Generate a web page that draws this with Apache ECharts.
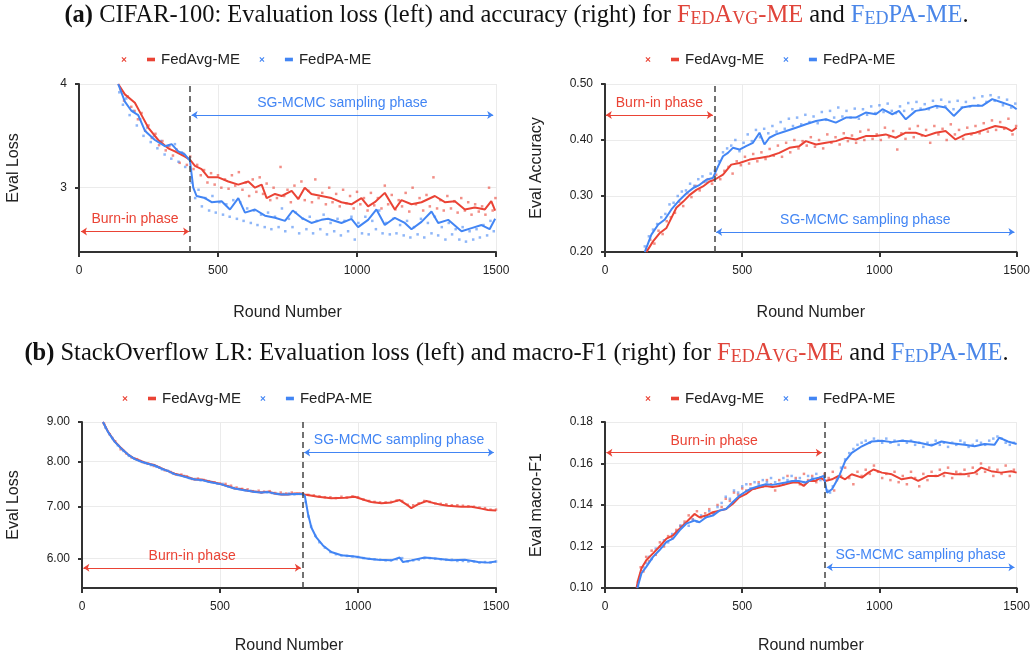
<!DOCTYPE html>
<html>
<head>
<meta charset="utf-8">
<script src="https://cdn.jsdelivr.net/npm/echarts@6/dist/echarts.min.js"></script>
<style>
    html, body { margin: 0; padding: 0; background: #fff; }
    #main { width: 1033px; height: 655px; }
</style>
</head>
<body>
<div id="main"></div>
<script>
// ---- data: [round, value] ----
const cifarLossAvg = [[141,4.0],[165,3.9],[201,3.82],[225,3.7],[249,3.58],[285,3.46],[321,3.38],[345,3.35],[381,3.3],[399,3.27],[417,3.21],[441,3.18],[465,3.1],[501,3.1],[537,3.06],[573,3.03],[609,3.06],[633,3.0],[657,3.03],[675,2.9],[705,2.94],[729,2.92],[765,2.97],[789,2.89],[812,3.0],[836,2.94],[872,2.92],[908,2.9],[944,2.86],[980,2.84],[1016,2.9],[1040,2.82],[1064,2.86],[1100,2.95],[1136,2.79],[1160,2.88],[1196,2.84],[1232,2.86],[1280,2.92],[1316,2.86],[1352,2.87],[1388,2.79],[1424,2.81],[1460,2.79],[1483,2.87],[1497,2.78]];
const cifarLossPa = [[141,4.0],[165,3.83],[189,3.74],[213,3.7],[237,3.55],[273,3.46],[309,3.4],[333,3.42],[357,3.35],[381,3.32],[399,3.26],[411,3.0],[423,2.92],[453,2.9],[477,2.86],[513,2.87],[543,2.79],[573,2.9],[597,2.76],[633,2.79],[669,2.73],[705,2.71],[741,2.68],[769,2.78],[801,2.71],[836,2.66],[872,2.69],[896,2.7],[944,2.66],[980,2.7],[1004,2.62],[1040,2.69],[1070,2.79],[1100,2.64],[1136,2.71],[1172,2.66],[1196,2.6],[1232,2.67],[1268,2.77],[1292,2.66],[1328,2.69],[1376,2.58],[1412,2.61],[1448,2.64],[1477,2.6],[1497,2.7]];
const cifarLossAvgPts = [[150,3.95],[162,3.84],[175,3.88],[188,3.78],[200,3.74],[212,3.66],[225,3.72],[238,3.55],[250,3.6],[262,3.48],[275,3.52],[288,3.41],[300,3.45],[312,3.36],[325,3.4],[338,3.31],[350,3.37],[362,3.24],[375,3.33],[388,3.22],[400,3.3],[412,3.18],[425,3.22],[438,3.12],[450,3.17],[462,3.05],[475,3.14],[488,3.03],[500,3.12],[512,3.0],[525,3.08],[538,2.99],[550,3.12],[562,3.02],[575,3.15],[588,2.98],[600,3.05],[612,2.92],[625,3.08],[638,2.96],[650,3.1],[662,2.94],[675,3.04],[688,2.88],[700,3.0],[712,2.9],[725,3.2],[738,2.92],[750,2.98],[762,2.86],[775,3.02],[788,2.9],[800,3.06],[812,2.88],[825,2.97],[838,2.86],[850,3.08],[862,2.9],[875,2.95],[888,2.84],[900,3.0],[912,2.86],[925,2.94],[938,2.82],[950,2.98],[962,2.85],[975,2.92],[988,2.8],[1000,2.96],[1012,2.84],[1025,2.9],[1038,2.78],[1050,2.95],[1062,2.83],[1075,2.9],[1088,2.8],[1100,3.02],[1112,2.84],[1125,2.93],[1138,2.79],[1150,2.88],[1162,2.82],[1175,2.95],[1188,2.77],[1200,3.0],[1212,2.84],[1225,2.9],[1238,2.78],[1250,2.93],[1262,2.82],[1275,3.1],[1288,2.8],[1300,2.88],[1312,2.78],[1325,2.92],[1338,2.8],[1350,2.87],[1362,2.76],[1375,2.9],[1388,2.78],[1400,2.86],[1412,2.74],[1425,2.84],[1438,2.77],[1450,2.82],[1462,2.74],[1475,3.0],[1488,2.78],[1498,2.9]];
const cifarLossPaPts = [[145,3.92],[158,3.8],[170,3.86],[182,3.7],[195,3.74],[208,3.6],[220,3.66],[232,3.5],[245,3.58],[258,3.44],[270,3.5],[282,3.38],[295,3.45],[308,3.32],[320,3.4],[332,3.28],[345,3.42],[358,3.25],[370,3.34],[382,3.2],[395,3.28],[405,3.05],[418,2.9],[430,2.98],[442,2.82],[455,2.9],[468,2.78],[480,2.92],[492,2.76],[505,2.86],[518,2.74],[530,2.84],[542,2.72],[555,2.88],[568,2.7],[580,2.86],[592,2.68],[605,2.8],[618,2.66],[630,2.78],[642,2.64],[655,2.74],[668,2.62],[680,2.76],[692,2.6],[705,2.72],[718,2.62],[730,2.8],[742,2.58],[755,2.7],[768,2.62],[780,2.76],[792,2.56],[805,2.7],[818,2.6],[830,2.72],[842,2.56],[855,2.68],[868,2.6],[880,2.74],[892,2.55],[905,2.66],[918,2.58],[930,2.7],[942,2.54],[955,2.68],[968,2.58],[980,2.72],[992,2.5],[1005,2.66],[1018,2.56],[1030,2.72],[1042,2.55],[1055,2.68],[1068,2.6],[1080,2.78],[1092,2.56],[1105,2.66],[1118,2.55],[1130,2.7],[1142,2.56],[1155,2.64],[1168,2.54],[1180,2.68],[1192,2.52],[1205,2.62],[1218,2.55],[1230,2.7],[1242,2.52],[1255,2.66],[1268,2.56],[1280,2.72],[1292,2.54],[1305,2.62],[1318,2.5],[1330,2.66],[1342,2.55],[1355,2.6],[1368,2.5],[1380,2.62],[1392,2.48],[1405,2.58],[1418,2.5],[1430,2.6],[1442,2.52],[1455,2.64],[1468,2.54],[1480,2.68],[1492,2.58]];

const cifarAccAvg = [[151,0.2],[175,0.219],[200,0.234],[224,0.243],[242,0.261],[260,0.279],[285,0.29],[309,0.302],[333,0.311],[357,0.317],[381,0.326],[399,0.329],[430,0.338],[460,0.356],[490,0.359],[527,0.365],[563,0.368],[599,0.371],[635,0.377],[672,0.386],[708,0.389],[732,0.398],[769,0.392],[805,0.395],[841,0.398],[878,0.404],[914,0.401],[950,0.407],[987,0.407],[1023,0.41],[1059,0.404],[1096,0.413],[1132,0.413],[1168,0.407],[1205,0.413],[1241,0.416],[1277,0.401],[1314,0.41],[1350,0.413],[1386,0.419],[1422,0.425],[1459,0.422],[1483,0.416],[1500,0.422]];
const cifarAccPa = [[145,0.2],[169,0.231],[194,0.249],[218,0.258],[242,0.276],[272,0.293],[297,0.305],[321,0.314],[345,0.32],[369,0.329],[393,0.332],[412,0.353],[430,0.371],[448,0.377],[466,0.386],[490,0.383],[514,0.389],[539,0.395],[563,0.413],[581,0.392],[599,0.404],[623,0.41],[660,0.416],[696,0.422],[732,0.428],[769,0.434],[805,0.437],[841,0.431],[878,0.44],[914,0.44],[950,0.449],[987,0.446],[1011,0.455],[1047,0.446],[1071,0.452],[1096,0.437],[1132,0.452],[1168,0.455],[1205,0.461],[1241,0.458],[1271,0.443],[1302,0.458],[1338,0.461],[1374,0.461],[1411,0.473],[1447,0.467],[1483,0.461],[1500,0.455]];
const cifarAccAvgPts = [[150,0.205],[165,0.222],[180,0.215],[195,0.238],[210,0.232],[225,0.255],[240,0.262],[255,0.27],[270,0.29],[285,0.282],[300,0.305],[315,0.298],[330,0.318],[345,0.31],[360,0.325],[375,0.33],[390,0.322],[405,0.338],[420,0.33],[435,0.345],[450,0.352],[465,0.34],[480,0.362],[495,0.355],[510,0.37],[525,0.358],[540,0.375],[555,0.362],[570,0.378],[585,0.366],[600,0.384],[615,0.372],[630,0.39],[645,0.37],[660,0.395],[675,0.378],[690,0.4],[705,0.385],[720,0.398],[735,0.39],[750,0.405],[765,0.388],[780,0.4],[795,0.385],[810,0.41],[825,0.395],[840,0.405],[855,0.392],[870,0.412],[885,0.398],[900,0.408],[915,0.395],[930,0.415],[945,0.4],[960,0.418],[975,0.402],[990,0.41],[1005,0.4],[1020,0.422],[1035,0.405],[1050,0.416],[1065,0.383],[1080,0.412],[1095,0.402],[1110,0.42],[1125,0.405],[1140,0.425],[1155,0.408],[1170,0.418],[1185,0.395],[1200,0.425],[1215,0.41],[1230,0.42],[1245,0.4],[1260,0.428],[1275,0.41],[1290,0.418],[1305,0.402],[1320,0.422],[1335,0.41],[1350,0.425],[1365,0.412],[1380,0.43],[1395,0.415],[1410,0.435],[1425,0.418],[1440,0.432],[1455,0.42],[1470,0.438],[1485,0.41],[1498,0.425]];
const cifarAccPaPts = [[145,0.21],[160,0.228],[175,0.24],[190,0.25],[205,0.262],[220,0.268],[235,0.285],[250,0.288],[265,0.3],[280,0.308],[295,0.31],[310,0.322],[325,0.318],[340,0.33],[355,0.335],[370,0.325],[385,0.34],[400,0.345],[415,0.362],[430,0.378],[445,0.385],[460,0.39],[475,0.4],[490,0.38],[505,0.395],[520,0.41],[535,0.398],[550,0.418],[565,0.405],[580,0.42],[595,0.412],[610,0.425],[625,0.415],[640,0.432],[655,0.42],[670,0.438],[685,0.425],[700,0.44],[715,0.428],[730,0.445],[745,0.432],[760,0.442],[775,0.43],[790,0.45],[805,0.436],[820,0.452],[835,0.44],[850,0.458],[865,0.442],[880,0.452],[895,0.44],[910,0.456],[925,0.438],[940,0.455],[955,0.445],[970,0.46],[985,0.448],[1000,0.462],[1015,0.45],[1030,0.465],[1045,0.452],[1060,0.448],[1075,0.46],[1090,0.452],[1105,0.466],[1120,0.455],[1135,0.468],[1150,0.456],[1165,0.464],[1180,0.455],[1195,0.47],[1210,0.458],[1225,0.472],[1240,0.46],[1255,0.468],[1270,0.455],[1285,0.47],[1300,0.458],[1315,0.468],[1330,0.46],[1345,0.475],[1360,0.462],[1375,0.478],[1390,0.468],[1405,0.48],[1420,0.47],[1435,0.476],[1450,0.462],[1465,0.472],[1480,0.458],[1495,0.465]];

const soLossAvg = [[76,9.0],[94,8.75],[118,8.5],[142,8.33],[167,8.17],[191,8.07],[215,8.01],[239,7.95],[263,7.92],[287,7.85],[312,7.78],[336,7.72],[360,7.68],[384,7.64],[408,7.59],[432,7.59],[457,7.55],[481,7.52],[505,7.48],[529,7.44],[553,7.39],[577,7.37],[601,7.34],[626,7.32],[650,7.3],[674,7.32],[698,7.28],[722,7.26],[746,7.26],[770,7.28],[789,7.28],[807,7.26],[855,7.21],[903,7.18],[952,7.19],[988,7.21],[1024,7.14],[1048,7.1],[1085,7.07],[1121,7.09],[1151,7.14],[1175,7.05],[1193,6.97],[1217,7.05],[1248,7.12],[1278,7.07],[1302,7.04],[1326,7.02],[1374,7.0],[1411,7.0],[1447,6.96],[1471,6.93],[1500,6.92]];
const soLossPa = [[76,9.0],[94,8.74],[118,8.49],[142,8.32],[167,8.17],[191,8.06],[215,8.0],[239,7.95],[263,7.91],[287,7.84],[312,7.78],[336,7.71],[360,7.67],[384,7.63],[408,7.59],[432,7.58],[457,7.54],[481,7.51],[505,7.48],[529,7.43],[553,7.39],[577,7.36],[601,7.34],[626,7.31],[650,7.3],[674,7.31],[698,7.28],[722,7.26],[746,7.26],[770,7.27],[795,7.27],[807,7.24],[819,6.85],[831,6.58],[849,6.39],[873,6.24],[903,6.12],[940,6.06],[988,6.04],[1036,6.0],[1072,5.98],[1121,5.97],[1151,6.02],[1163,5.94],[1193,5.97],[1242,6.02],[1290,6.0],[1338,5.97],[1387,5.98],[1435,5.94],[1471,5.93],[1500,5.95]];
const soLossAvgPts = [[80,8.95],[100,8.68],[120,8.5],[140,8.3],[160,8.2],[180,8.1],[200,8.06],[220,7.99],[240,7.96],[260,7.9],[280,7.86],[300,7.8],[320,7.76],[340,7.7],[360,7.7],[380,7.66],[400,7.6],[420,7.61],[440,7.58],[460,7.55],[480,7.52],[500,7.5],[520,7.49],[540,7.45],[560,7.41],[580,7.38],[600,7.37],[620,7.33],[640,7.34],[660,7.32],[680,7.33],[700,7.29],[720,7.3],[740,7.28],[760,7.3],[780,7.27],[800,7.28],[820,7.25],[840,7.24],[860,7.22],[880,7.2],[900,7.2],[920,7.18],[940,7.21],[960,7.19],[980,7.22],[1000,7.2],[1020,7.15],[1040,7.12],[1060,7.1],[1080,7.09],[1100,7.09],[1120,7.1],[1140,7.13],[1160,7.12],[1180,7.04],[1200,7.03],[1220,7.07],[1240,7.12],[1260,7.1],[1280,7.07],[1300,7.06],[1320,7.05],[1340,7.03],[1360,7.03],[1380,7.02],[1400,7.01],[1420,7.0],[1440,6.98],[1460,6.97],[1480,6.94],[1500,6.94]];
const soLossPaPts = [[85,8.85],[110,8.58],[130,8.4],[150,8.26],[170,8.14],[190,8.08],[210,8.02],[230,7.97],[250,7.92],[270,7.88],[290,7.82],[310,7.79],[330,7.72],[350,7.69],[370,7.67],[390,7.62],[410,7.6],[430,7.57],[450,7.56],[470,7.53],[490,7.5],[510,7.49],[530,7.44],[550,7.4],[570,7.38],[590,7.35],[610,7.34],[630,7.32],[650,7.3],[670,7.31],[690,7.29],[710,7.27],[730,7.27],[750,7.28],[770,7.26],[790,7.27],[810,7.1],[820,6.8],[830,6.6],[845,6.42],[860,6.3],[880,6.2],[900,6.12],[920,6.08],[940,6.06],[960,6.05],[980,6.04],[1000,6.03],[1020,6.01],[1040,6.0],[1060,5.99],[1080,5.98],[1100,5.97],[1120,5.97],[1140,5.99],[1160,6.01],[1180,5.95],[1200,5.97],[1220,5.98],[1240,6.01],[1260,6.01],[1280,6.0],[1300,5.99],[1320,5.98],[1340,5.98],[1360,5.96],[1380,5.96],[1400,5.95],[1420,5.95],[1440,5.93],[1460,5.94],[1480,5.93],[1500,5.95]];

const soF1Avg = [[115,0.1],[121,0.104],[133,0.1095],[151,0.1135],[175,0.1167],[199,0.12],[224,0.1238],[248,0.1254],[272,0.1286],[296,0.1317],[326,0.1357],[344,0.1341],[369,0.1349],[393,0.1365],[417,0.1373],[441,0.1381],[465,0.1405],[489,0.1437],[513,0.1452],[537,0.1476],[562,0.1484],[586,0.1492],[610,0.1487],[634,0.1492],[658,0.15],[682,0.1508],[706,0.1508],[724,0.1492],[743,0.1516],[767,0.1516],[785,0.1532],[803,0.1516],[827,0.1524],[851,0.154],[875,0.1524],[899,0.1548],[936,0.1532],[960,0.1556],[978,0.1571],[1009,0.1556],[1045,0.1548],[1081,0.1524],[1117,0.1532],[1141,0.1516],[1178,0.154],[1214,0.154],[1238,0.1556],[1274,0.1548],[1310,0.1548],[1347,0.1556],[1371,0.158],[1407,0.1563],[1443,0.1556],[1480,0.1563],[1500,0.1556]];
const soF1Pa = [[118,0.1],[121,0.1008],[133,0.1071],[151,0.1103],[175,0.115],[199,0.1183],[224,0.1222],[248,0.1238],[272,0.1278],[296,0.131],[326,0.1325],[344,0.1317],[369,0.1341],[393,0.1349],[417,0.1373],[441,0.1381],[465,0.1413],[489,0.1444],[513,0.1465],[537,0.1481],[562,0.1492],[586,0.15],[610,0.1497],[634,0.1503],[658,0.1508],[682,0.1516],[706,0.1516],[730,0.1508],[755,0.1524],[779,0.1532],[797,0.154],[809,0.146],[827,0.1476],[851,0.1532],[875,0.1611],[899,0.1651],[936,0.1683],[972,0.1706],[1009,0.171],[1045,0.1703],[1081,0.171],[1117,0.1706],[1154,0.1698],[1190,0.1687],[1226,0.1706],[1262,0.1698],[1310,0.169],[1347,0.1683],[1383,0.1694],[1419,0.169],[1437,0.1725],[1468,0.1706],[1500,0.1694]];
const soF1AvgPts = [[120,0.103],[130,0.11],[140,0.108],[150,0.115],[160,0.113],[170,0.118],[185,0.116],[200,0.122],[215,0.12],[230,0.125],[245,0.124],[260,0.128],[275,0.13],[290,0.132],[305,0.135],[320,0.133],[335,0.137],[350,0.134],[365,0.136],[380,0.138],[395,0.136],[410,0.14],[425,0.139],[440,0.143],[455,0.142],[470,0.146],[485,0.145],[500,0.148],[515,0.147],[530,0.15],[545,0.148],[560,0.151],[575,0.149],[590,0.152],[605,0.15],[620,0.147],[635,0.152],[650,0.15],[665,0.154],[680,0.151],[695,0.153],[710,0.15],[725,0.155],[740,0.152],[755,0.154],[770,0.151],[785,0.153],[800,0.155],[815,0.153],[830,0.156],[835,0.147],[845,0.152],[860,0.154],[875,0.158],[890,0.153],[905,0.15],[920,0.156],[935,0.154],[950,0.157],[965,0.155],[980,0.159],[995,0.156],[1010,0.153],[1025,0.155],[1040,0.152],[1055,0.156],[1070,0.151],[1085,0.154],[1100,0.15],[1115,0.156],[1130,0.153],[1145,0.149],[1160,0.155],[1175,0.152],[1190,0.156],[1205,0.154],[1220,0.157],[1235,0.154],[1250,0.158],[1265,0.153],[1280,0.156],[1295,0.155],[1310,0.157],[1325,0.154],[1340,0.158],[1355,0.155],[1370,0.16],[1385,0.156],[1400,0.158],[1415,0.154],[1430,0.157],[1445,0.155],[1460,0.159],[1475,0.154],[1490,0.157]];
const soF1PaPts = [[120,0.101],[130,0.107],[140,0.11],[150,0.112],[160,0.115],[170,0.114],[185,0.119],[200,0.12],[215,0.123],[230,0.122],[245,0.126],[260,0.127],[275,0.13],[290,0.131],[305,0.13],[320,0.133],[335,0.132],[350,0.135],[365,0.134],[380,0.137],[395,0.136],[410,0.139],[425,0.141],[440,0.144],[455,0.143],[470,0.147],[485,0.146],[500,0.149],[515,0.15],[530,0.148],[545,0.151],[560,0.15],[575,0.152],[590,0.151],[605,0.153],[620,0.151],[635,0.15],[650,0.153],[665,0.152],[680,0.154],[695,0.152],[710,0.153],[725,0.151],[740,0.154],[755,0.153],[770,0.155],[785,0.152],[800,0.154],[810,0.147],[820,0.146],[830,0.149],[845,0.153],[860,0.158],[875,0.162],[890,0.165],[905,0.167],[920,0.169],[935,0.17],[950,0.171],[965,0.17],[980,0.172],[995,0.171],[1010,0.17],[1025,0.172],[1040,0.17],[1055,0.171],[1070,0.169],[1085,0.171],[1100,0.17],[1115,0.171],[1130,0.169],[1145,0.17],[1160,0.168],[1175,0.17],[1190,0.169],[1205,0.171],[1220,0.169],[1235,0.17],[1250,0.168],[1265,0.17],[1280,0.169],[1295,0.171],[1310,0.17],[1325,0.168],[1340,0.169],[1355,0.171],[1370,0.17],[1385,0.169],[1400,0.171],[1415,0.172],[1430,0.173],[1445,0.172],[1460,0.17],[1475,0.169],[1490,0.17]];

// tick labels
const lossTicksA = [3, 4];
const lossTicksB = [6, 7, 8, 9];

const RED = '#ea4335';
const BLUE = '#4285f4';
const SANS = 'Arial, "Liberation Sans", sans-serif';
const SERIF = '"Liberation Serif", "Times New Roman", serif';
const X_ICON = 'path://M0,0M10,10M2.5,3.3L3.3,2.5L5,4.2L6.7,2.5L7.5,3.3L5.8,5L7.5,6.7L6.7,7.5L5,5.8L3.3,7.5L2.5,6.7L4.2,5Z';
const BAR_ICON = 'path://M0,0M10,10M1,3.2L9,3.2L9,6.8L1,6.8Z';

let chart = echarts.init(document.getElementById('main'));

function xAxisFor(i, name, gap) {
    return {
        type: 'value', gridIndex: i, min: 0, max: 1500, interval: 500,
        name: name, nameLocation: 'middle', nameGap: gap,
        nameTextStyle: {fontSize: 16, color: '#222', fontFamily: SANS},
        axisLine: {show: true, onZero: false, lineStyle: {color: '#333', width: 2}},
        axisTick: {show: true, length: 5, lineStyle: {color: '#333', width: 2}},
        axisLabel: {fontSize: 12, color: '#222', fontFamily: SANS, margin: 13,
                    formatter: v => String(v)},
        splitLine: {show: true, lineStyle: {color: '#ebebeb', width: 1}}
    };
}

function yAxisFor(i, name, gap, extra) {
    let ax = {
        type: 'value', gridIndex: i,
        name: name, nameLocation: 'middle', nameGap: gap,
        nameTextStyle: {fontSize: 16, color: '#222', fontFamily: SANS},
        axisLine: {show: true, lineStyle: {color: '#333', width: 2}},
        axisTick: {show: true, length: 4, lineStyle: {color: '#333', width: 2}},
        axisLabel: {fontSize: 12, color: '#222', fontFamily: SANS, margin: 12},
        splitLine: {show: true, lineStyle: {color: '#ebebeb', width: 1}}
    };
    Object.keys(extra).forEach(k => {
        if (typeof extra[k] === 'object' && ax[k]) {
            ax[k] = Object.assign({}, ax[k], extra[k]);
        } else {
            ax[k] = extra[k];
        }
    });
    return ax;
}

function arrow(x0, x1, y, text, color) {
    return [
        {coord: [x0, y], symbol: 'arrow', lineStyle: {color: color, width: 1, type: 'solid'},
         label: {show: true, formatter: text, position: 'insideMiddleTop', distance: 5, color: color, fontSize: 14, fontFamily: SANS}},
        {coord: [x1, y], symbol: 'arrow'}
    ];
}

function panelSeries(i, avgLine, paLine, avgPts, paPts, splitX, marks) {
    let dashed = {xAxis: splitX, lineStyle: {color: '#444', width: 1.5, type: [6, 4]}, label: {show: false}};
    return [
        {name: 'FedAvg-ME pts', type: 'scatter', xAxisIndex: i, yAxisIndex: i, data: avgPts,
         symbol: 'rect', symbolSize: 2.5, itemStyle: {color: RED, opacity: 0.6}, silent: true},
        {name: 'FedPA-ME pts', type: 'scatter', xAxisIndex: i, yAxisIndex: i, data: paPts,
         symbol: 'rect', symbolSize: 2.5, itemStyle: {color: BLUE, opacity: 0.6}, silent: true},
        {name: 'FedAvg-ME', type: 'line', xAxisIndex: i, yAxisIndex: i, data: avgLine,
         showSymbol: false, lineStyle: {color: RED, width: 2}, itemStyle: {color: RED}, silent: true},
        {name: 'FedPA-ME', type: 'line', xAxisIndex: i, yAxisIndex: i, data: paLine,
         showSymbol: false, lineStyle: {color: BLUE, width: 2}, itemStyle: {color: BLUE}, silent: true,
         markLine: {silent: true, symbol: 'none', symbolSize: 6, animation: false,
                    data: [dashed].concat(marks)}}
    ];
}

function legendFor(left, top) {
    return {
        left: left, top: top, itemWidth: 10, itemHeight: 10, itemGap: 17,
        selectedMode: false,
        textStyle: {fontSize: 15, color: '#222', fontFamily: SANS},
        formatter: function (name) { return name.indexOf('pts') >= 0 ? '' : name; },
        data: [
            {name: 'FedAvg-ME pts', icon: X_ICON, itemStyle: {color: RED, opacity: 1}},
            {name: 'FedAvg-ME', icon: BAR_ICON, itemStyle: {color: RED}},
            {name: 'FedPA-ME pts', icon: X_ICON, itemStyle: {color: BLUE, opacity: 1}},
            {name: 'FedPA-ME', icon: BAR_ICON, itemStyle: {color: BLUE}}
        ]
    };
}

function titleRich(size) {
    let small = Math.round(size * 0.74);
    let base = {fontFamily: SERIF, fontSize: size, fontWeight: 'normal', color: '#111', verticalAlign: 'bottom'};
    return {
        n: base,
        b: Object.assign({}, base, {fontWeight: 'bold'}),
        r: Object.assign({}, base, {color: '#e0443a'}),
        rs: Object.assign({}, base, {color: '#e0443a', fontSize: small}),
        u: Object.assign({}, base, {color: '#4a86e8'}),
        us: Object.assign({}, base, {color: '#4a86e8', fontSize: small})
    };
}

let option = {
    backgroundColor: '#fff',
    animation: false,
    title: [
        {left: 'center', top: -2,
         text: '{b|(a)}{n| CIFAR-100: Evaluation loss (left) and accuracy (right) for }{r|F}{rs|ED}{r|A}{rs|VG}{r|-ME}{n| and }{u|F}{us|ED}{u|PA-ME}{n|.}',
         textStyle: {fontWeight: 'normal', rich: titleRich(24.5)}},
        {left: 'center', top: 336,
         text: '{b|(b)}{n| StackOverflow LR: Evaluation loss (left) and macro-F1 (right) for }{r|F}{rs|ED}{r|A}{rs|VG}{r|-ME}{n| and }{u|F}{us|ED}{u|PA-ME}{n|.}',
         textStyle: {fontWeight: 'normal', rich: titleRich(24.5)}}
    ],
    legend: [legendFor(114, 47), legendFor(638, 47), legendFor(115, 386), legendFor(638, 386)],
    grid: [
        {left: 79, top: 84, width: 417, height: 168},
        {left: 605, top: 84, width: 413, height: 168},
        {left: 82, top: 422, width: 414, height: 168},
        {left: 605, top: 422, width: 414, height: 168}
    ],
    xAxis: [
        xAxisFor(0, 'Round Number', 53),
        xAxisFor(1, 'Round Number', 53),
        xAxisFor(2, 'Round Number', 50),
        xAxisFor(3, 'Round number', 50)
    ],
    yAxis: [
        yAxisFor(0, 'Eval Loss', 57, {min: 2.38, max: 4,
            axisLabel: {customValues: lossTicksA}, axisTick: {customValues: lossTicksA}}),
        yAxisFor(1, 'Eval Accuracy', 60, {min: 0.2, max: 0.5, interval: 0.1,
            axisLabel: {formatter: v => v.toFixed(2)}}),
        yAxisFor(2, 'Eval Loss', 60, {type: 'log', logBase: 10, min: 5.5, max: 9,
            axisLabel: {customValues: lossTicksB, formatter: v => Number(v).toFixed(2)},
            axisTick: {customValues: lossTicksB}}),
        yAxisFor(3, 'Eval macro-F1', 60, {min: 0.1, max: 0.18, interval: 0.02,
            axisLabel: {formatter: v => v.toFixed(2)}})
    ],
    series: [].concat(
        panelSeries(0, cifarLossAvg, cifarLossPa, cifarLossAvgPts, cifarLossPaPts, 400, [
            arrow(405, 1490, 3.70, 'SG-MCMC sampling phase', BLUE),
            arrow(7, 396, 2.577, 'Burn-in phase', RED)
        ]),
        panelSeries(1, cifarAccAvg, cifarAccPa, cifarAccAvgPts, cifarAccPaPts, 400, [
            arrow(3, 393, 0.4446, 'Burn-in phase', RED),
            arrow(405, 1492, 0.2357, 'SG-MCMC sampling phase', BLUE)
        ]),
        panelSeries(2, soLossAvg, soLossPa, soLossAvgPts, soLossPaPts, 800, [
            arrow(805, 1492, 8.22, 'SG-MCMC sampling phase', BLUE),
            arrow(5, 793, 5.84, 'Burn-in phase', RED)
        ]),
        panelSeries(3, soF1Avg, soF1Pa, soF1AvgPts, soF1PaPts, 800, [
            arrow(5, 790, 0.1652, 'Burn-in phase', RED),
            arrow(808, 1492, 0.110, 'SG-MCMC sampling phase', BLUE)
        ])
    )
};

chart.setOption(option);
</script>
</body>
</html>
